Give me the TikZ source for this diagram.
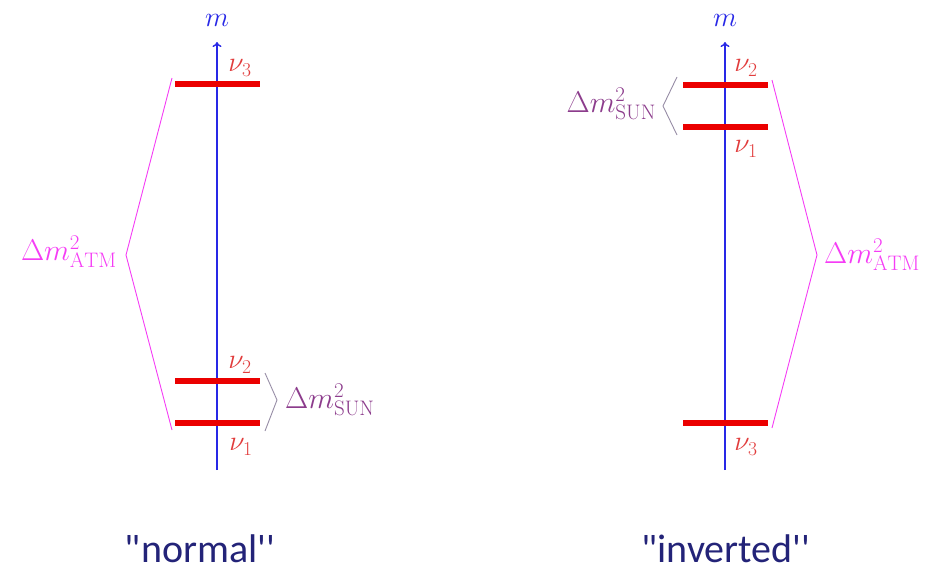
\RequirePackage{fix-cm}
\documentclass[tikz,border=0pt]{standalone}
\usepackage{fontspec}
\newfontfamily\capfont{Carlito}
\usetikzlibrary{arrows.meta}
\definecolor{axisblue}{RGB}{40,40,230}
\definecolor{lvlred}{RGB}{235,0,0}
\definecolor{nured}{RGB}{225,60,60}
\definecolor{atmmag}{RGB}{245,60,245}
\definecolor{sunpur}{RGB}{140,60,140}
\definecolor{sunbr}{RGB}{150,140,165}
\definecolor{navy}{RGB}{35,35,120}
\tikzset{
  axisline/.style={draw=axisblue, line width=1.4pt, -{To[length=5pt,width=9pt]}},
  level/.style={draw=lvlred, line width=5.5pt},
  nulab/.style={text=nured, font=\fontsize{28}{32}\selectfont, inner sep=0pt},
  mlab/.style={text=axisblue, font=\fontsize{28}{32}\selectfont, inner sep=0pt},
  atmbr/.style={draw=atmmag, line width=0.9pt},
  sunbrk/.style={draw=sunbr, line width=0.9pt},
  atmlab/.style={text=atmmag, font=\fontsize{30}{34}\selectfont, inner sep=0pt},
  sunlab/.style={text=sunpur, font=\fontsize{30}{34}\selectfont, inner sep=0pt},
  caption/.style={text=navy, font=\capfont\fontsize{40}{46}\selectfont, inner sep=0pt}
}
\begin{document}
\begin{tikzpicture}[x=1pt,y=-1pt]
\useasboundingbox (0,0) rectangle (930,573);
% ---------- normal ----------
\coordinate (nb) at (217,470);
\coordinate (nt) at (217,42);
\draw[axisline] (nb) -- (nt);
\node[mlab] (nm) at (217,20) {$m$};
\coordinate (n3l) at (175,84); \coordinate (n3r) at (260,84);
\coordinate (n2l) at (175,381); \coordinate (n2r) at (260,381);
\coordinate (n1l) at (175,423); \coordinate (n1r) at (260,423);
\draw[level] (n3l) -- (n3r);
\draw[level] (n2l) -- (n2r);
\draw[level] (n1l) -- (n1r);
\node[nulab] (nnu3) at (240,68) {$\nu_3$};
\node[nulab] (nnu2) at (240,365) {$\nu_2$};
\node[nulab] (nnu1) at (241,447) {$\nu_1$};
\coordinate (na1) at (172,78); \coordinate (na2) at (126,255); \coordinate (na3) at (172,430);
\draw[atmbr] (na1) -- (na2) -- (na3);
\node[atmlab, anchor=east] (natm) at (117,252) {$\Delta m^2_{\mathrm{ATM}}$};
\coordinate (ns1) at (265,373); \coordinate (ns2) at (277,400); \coordinate (ns3) at (265,431);
\draw[sunbrk] (ns1) -- (ns2) -- (ns3);
\node[sunlab, anchor=west] (nsun) at (285,400) {$\Delta m^2_{\mathrm{SUN}}$};
\node[caption] (ncap) at (200,549) {\symbol{34}normal''};
% ---------- inverted ----------
\coordinate (ib) at (725,470);
\coordinate (it) at (725,42);
\draw[axisline] (ib) -- (it);
\node[mlab] (im) at (725,20) {$m$};
\coordinate (i2l) at (683,85); \coordinate (i2r) at (768,85);
\coordinate (i1l) at (683,127); \coordinate (i1r) at (768,127);
\coordinate (i3l) at (683,423); \coordinate (i3r) at (768,423);
\draw[level] (i2l) -- (i2r);
\draw[level] (i1l) -- (i1r);
\draw[level] (i3l) -- (i3r);
\node[nulab] (inu2) at (746,68) {$\nu_2$};
\node[nulab] (inu1) at (746,149) {$\nu_1$};
\node[nulab] (inu3) at (746,447) {$\nu_3$};
\coordinate (is1) at (677,77); \coordinate (is2) at (663,106); \coordinate (is3) at (677,135);
\draw[sunbrk] (is1) -- (is2) -- (is3);
\node[sunlab, anchor=east] (isun) at (656,104) {$\Delta m^2_{\mathrm{SUN}}$};
\coordinate (ia1) at (772,80); \coordinate (ia2) at (817,255); \coordinate (ia3) at (772,428);
\draw[atmbr] (ia1) -- (ia2) -- (ia3);
\node[atmlab, anchor=west] (iatm) at (824,255) {$\Delta m^2_{\mathrm{ATM}}$};
\node[caption] (icap) at (726,549) {\symbol{34}inverted''};
\end{tikzpicture}
\end{document}
